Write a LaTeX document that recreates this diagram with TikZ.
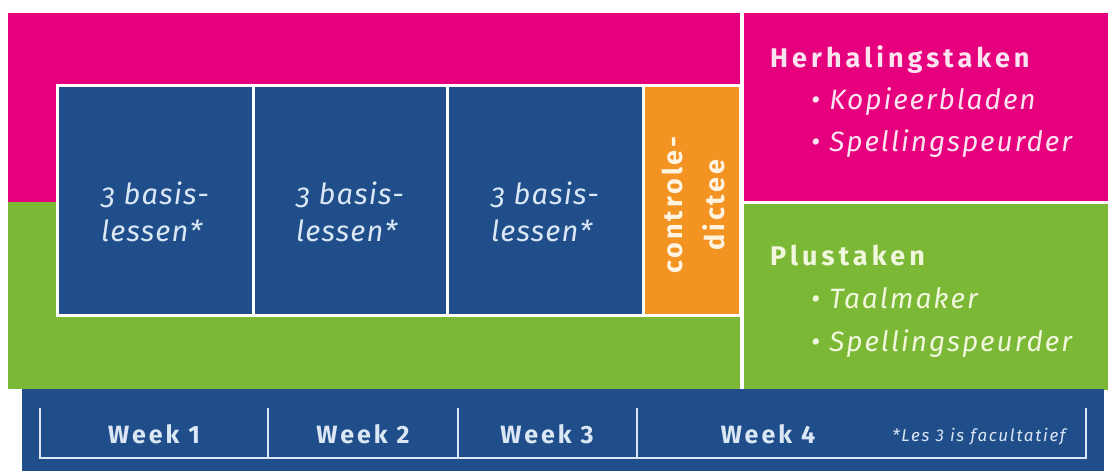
\documentclass[tikz,border=0pt]{standalone}
\usepackage{fontspec}
\setmainfont{Fira Sans}
\definecolor{roze}{HTML}{E6007E}
\definecolor{groen}{HTML}{7BB836}
\definecolor{blauw}{HTML}{1F4E8A}
\definecolor{oranje}{HTML}{F39322}
\definecolor{lichtroze}{HTML}{FBE4F0}
\definecolor{lichtgroen}{HTML}{F0F7DC}
\definecolor{lichtblauw}{HTML}{DCE7F5}
\definecolor{licht}{HTML}{FFF3E2}
\tikzset{
  vlak/.style={inner sep=0pt, outer sep=0pt, anchor=north west},
  lesvak/.style={vlak, fill=blauw, draw=white, line width=3pt, minimum height=230pt},
  lestekst/.style={align=left, inner sep=0pt, text=lichtblauw,
    font={\fontsize{29}{37}\selectfont\itshape\addfontfeatures{LetterSpace=4,Numbers=OldStyle}}},
  kop/.style={anchor=base west, inner sep=0pt,
    font={\fontsize{27}{27}\selectfont\bfseries\addfontfeatures{LetterSpace=15}}},
  punt/.style={anchor=base west, inner sep=0pt,
    font={\fontsize{28}{28}\selectfont\itshape\addfontfeatures{LetterSpace=7}}},
  week/.style={anchor=base, inner sep=0pt, text=lichtblauw,
    font={\fontsize{25}{25}\selectfont\bfseries\addfontfeatures{LetterSpace=12}}},
  haak/.style={draw=lichtblauw, line width=2.5pt}
}

\begin{document}
\begin{tikzpicture}[x=1pt, y=-1pt]
\useasboundingbox (0,0) rectangle (1112,471);
\node[vlak, fill=roze, minimum width=732pt, minimum height=189pt] (boven) at (8,13) {};
\node[vlak, fill=groen, minimum width=732pt, minimum height=187pt] (onder) at (8,202) {};
\node[vlak, fill=roze, minimum width=364pt, minimum height=188pt] (herhaling) at (744,13) {};
\node[vlak, fill=groen, minimum width=364pt, minimum height=186pt] (plus) at (744,204) {};
\node[vlak, fill=blauw, minimum width=1082pt, minimum height=82pt] (balk) at (22,389) {};

\node[lesvak, minimum width=196pt] (les1) at (57,85) {};
\node[lesvak, minimum width=194pt] (les2) at (253,85) {};
\node[lesvak, minimum width=196pt] (les3) at (447,85) {};
\node[lesvak, fill=oranje, minimum width=97pt] (dictee) at (643,85) {};

\node[lestekst] (tekst1) at ([yshift=-12pt]les1.center) {3 basis-\\lessen*};
\node[lestekst] (tekst2) at ([yshift=-12pt]les2.center) {3 basis-\\lessen*};
\node[lestekst] (tekst3) at ([yshift=-12pt]les3.center) {3 basis-\\lessen*};
\node[rotate=90, align=center, inner sep=0pt, text=licht,
  font={\fontsize{27}{42}\selectfont\bfseries\addfontfeatures{LetterSpace=11}}]
  (dtekst) at ([xshift=2pt, yshift=-5pt]dictee.center) {controle-\\dictee};

\node[kop, text=lichtroze] (herhaalkop) at (770,67) {Herhalingstaken};
\node[punt, text=lichtroze] (herhaal1) at (811,109) {• Kopieerbladen};
\node[punt, text=lichtroze] (herhaal2) at (811,151) {• Spellingspeurder};
\node[kop, text=lichtgroen] (pluskop) at (770,265) {Plustaken};
\node[punt, text=lichtgroen] (plus1) at (811,308) {• Taalmaker};
\node[punt, text=lichtgroen] (plus2) at (811,351) {• Spellingspeurder};

\draw[haak] (40,408) -- (40,458) -- (1086,458) -- (1086,408);
\draw[haak] (268,408) -- (268,458);
\draw[haak] (458,408) -- (458,458);
\draw[haak] (637,408) -- (637,458);
\node[week] (week1) at (154,443) {Week 1};
\node[week] (week2) at (363,443) {Week 2};
\node[week] (week3) at (547,443) {Week 3};
\node[week] (week4) at (768,443) {Week 4};
\node[anchor=base, inner sep=0pt, text=lichtblauw,
  font={\fontsize{17}{17}\selectfont\itshape\addfontfeatures{LetterSpace=10}}]
  (voetnoot) at (979,441) {*Les 3 is facultatief};
\end{tikzpicture}
\end{document}
